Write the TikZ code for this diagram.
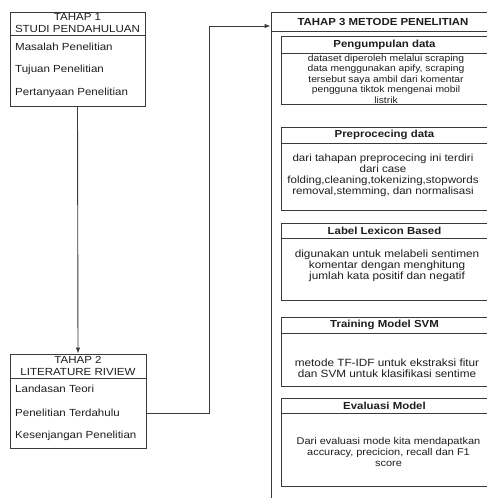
\documentclass[tikz,border=0pt]{standalone}
\usepackage{fontspec}
\setmainfont[FakeStretch=1.12]{Liberation Sans}
\usetikzlibrary{arrows.meta,calc}
\definecolor{linec}{HTML}{3A3A3A}
\definecolor{txtc}{HTML}{1E1E1E}
\begin{document}
\begin{tikzpicture}[x=1pt,y=-1pt,
  frame/.style={draw=linec, line width=0.9pt, inner sep=0pt, fill=none},
  lbl/.style={inner sep=0pt, text=txtc, font=\fontsize{10.3}{12}\selectfont},
  item/.style={lbl, anchor=west},
  ttl/.style={lbl, align=center},
  hdr/.style={inner sep=0pt, text=txtc, font=\bfseries\fontsize{10.2}{12}\selectfont},
  body/.style={inner sep=0pt, text=txtc, align=center},
  arr/.style={draw=linec, line width=0.9pt, -{Latex[length=6pt,width=4.5pt]}},
]
\clip (0,0) rectangle (487,498);
\fill[white] (0,0) rectangle (487,498);

% ---------- TAHAP 1 ----------
\node[frame, minimum width=135pt, minimum height=94pt] (t1) at (77.5,59) {};
\node[frame, minimum width=135pt, minimum height=23pt, anchor=north] (t1h) at (t1.north) {};
\node[ttl] (t1t) at (t1h.center) {TAHAP 1\\STUDI PENDAHULUAN};
\node[item] (t1a) at (15,47) {Masalah Penelitian};
\node[item] (t1b) at (15,70) {Tujuan Penelitian};
\node[item] (t1c) at (15,93) {Pertanyaan Penelitian};

% ---------- TAHAP 2 ----------
\node[frame, minimum width=136pt, minimum height=94pt] (t2) at (78,401) {};
\node[frame, minimum width=136pt, minimum height=24pt, anchor=north] (t2h) at (t2.north) {};
\node[ttl] (t2t) at (t2h.center) {TAHAP 2\\LITERATURE RIVIEW};
\node[item] (t2a) at (15,389) {Landasan Teori};
\node[item] (t2b) at (15,413) {Penelitian Terdahulu};
\node[item] (t2c) at (15,436) {Kesenjangan Penelitian};

% ---------- TAHAP 3 ----------
\node[frame, minimum width=224pt, minimum height=498pt] (t3) at (383,261) {};
\node[frame, minimum width=224pt, minimum height=19pt, anchor=north] (t3h) at (t3.north) {};
\node[hdr] (t3t) at (t3h.center) {TAHAP 3 METODE PENELITIAN};

% Pengumpulan data
\node[frame, minimum width=207pt, minimum height=68pt] (p1) at (384.5,70) {};
\node[frame, minimum width=207pt, minimum height=17pt, anchor=north] (p1h) at (p1.north) {};
\node[hdr] (p1t) at (p1h.center) {Pengumpulan data};
\node[body, font=\fontsize{9.2}{10.4}\selectfont] (p1b) at (386,79)
  {dataset diperoleh melalui scraping\\data menggunakan apify, scraping\\tersebut saya ambil dari komentar\\pengguna tiktok mengenai mobil\\listrik};

% Preprocecing data
\node[frame, minimum width=207pt, minimum height=83pt] (p2) at (384.5,168.5) {};
\node[frame, minimum width=207pt, minimum height=16pt, anchor=north] (p2h) at (p2.north) {};
\node[hdr] (p2t) at (p2h.center) {Preprocecing data};
\node[body, font=\fontsize{10.3}{11}\selectfont] (p2b) at (383,175)
  {dari tahapan preprocecing ini terdiri\\dari case\\folding,cleaning,tokenizing,stopwords\\removal,stemming, dan normalisasi};

% Label Lexicon Based
\node[frame, minimum width=207pt, minimum height=77pt] (p3) at (384.5,261.5) {};
\node[frame, minimum width=207pt, minimum height=15pt, anchor=north] (p3h) at (p3.north) {};
\node[hdr] (p3t) at (p3h.center) {Label Lexicon Based};
\node[body, font=\fontsize{10.5}{11}\selectfont] (p3b) at (387,265.5)
  {digunakan untuk melabeli sentimen\\komentar dengan menghitung\\jumlah kata positif dan negatif};

% Training Model SVM
\node[frame, minimum width=207pt, minimum height=69pt] (p4) at (384.5,351.5) {};
\node[frame, minimum width=207pt, minimum height=16pt, anchor=north] (p4h) at (p4.north) {};
\node[hdr] (p4t) at (p4h.center) {Training Model SVM};
\node[body, font=\fontsize{10.5}{11}\selectfont] (p4b) at (387,368)
  {metode TF-IDF untuk ekstraksi fitur\\dan SVM untuk klasifikasi sentime};

% Evaluasi Model
\node[frame, minimum width=207pt, minimum height=88pt] (p5) at (384.5,442) {};
\node[frame, minimum width=207pt, minimum height=15pt, anchor=north] (p5h) at (p5.north) {};
\node[hdr] (p5t) at (p5h.center) {Evaluasi Model};
\node[body, font=\fontsize{9.8}{11}\selectfont] (p5b) at (388.5,451.5)
  {Dari evaluasi mode kita mendapatkan\\accuracy, precicion, recall dan F1\\score};

% ---------- connectors ----------
\draw[arr] (t1.south) -- (t2.north);
\coordinate (bend) at (209,26);
\draw[arr] (t2.east |- t2b) -| (bend) -- (t3.west |- bend);
\end{tikzpicture}
\end{document}
